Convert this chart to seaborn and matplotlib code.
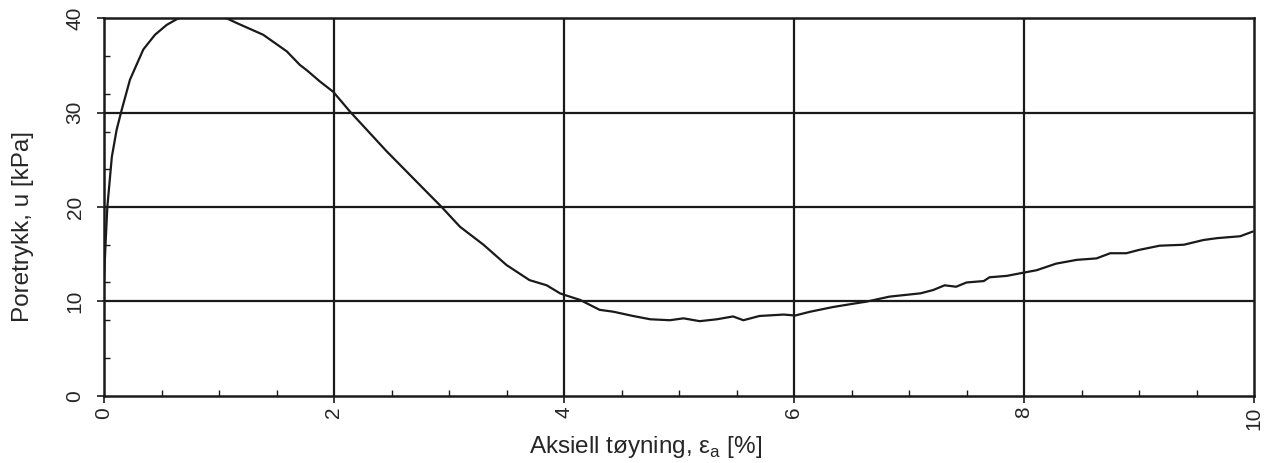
import numpy as np
import pandas as pd
import matplotlib
matplotlib.use("Agg")
import matplotlib.pyplot as plt
from matplotlib.ticker import MultipleLocator
import seaborn as sns

strain = [0.0, 0.015, 0.029, 0.068, 0.11, 0.154, 0.226, 0.342, 0.443, 0.545, 0.646,
          0.8, 0.95, 1.067, 1.154, 1.385, 1.589, 1.704, 1.763, 1.878, 1.994, 2.14,
          2.284, 2.458, 2.632, 2.806, 2.936, 3.096, 3.30, 3.50, 3.70, 3.85, 3.965,
          4.0, 4.14, 4.31, 4.43, 4.6, 4.75, 4.92, 5.04, 5.18, 5.33, 5.47, 5.56, 5.7,
          5.91, 6.01, 6.14, 6.34, 6.49, 6.63, 6.83, 7.1, 7.21, 7.31, 7.41, 7.5, 7.65,
          7.7, 7.85, 8.0, 8.11, 8.28, 8.46, 8.63, 8.75, 8.89, 9.0, 9.18, 9.39, 9.56,
          9.68, 9.88, 9.99]
pore_pressure = [12.3, 16.5, 20.0, 25.3, 28.2, 30.3, 33.5, 36.7, 38.25, 39.3, 40.0,
                 40.4, 40.3, 40.0, 39.5, 38.25, 36.5, 35.05, 34.5, 33.3, 32.2, 30.1,
                 28.2, 25.9, 23.75, 21.6, 20.0, 17.9, 16.0, 13.85, 12.25, 11.7, 10.85,
                 10.7, 10.15, 9.1, 8.9, 8.45, 8.1, 8.0, 8.2, 7.9, 8.1, 8.4, 8.0, 8.45,
                 8.6, 8.5, 8.9, 9.4, 9.7, 9.97, 10.5, 10.85, 11.2, 11.7, 11.55, 12.0, 12.15,
                 12.55, 12.7, 13.05, 13.3, 14.0, 14.4, 14.55, 15.1, 15.1, 15.45, 15.9, 16.0, 16.5,
                 16.7, 16.9, 17.4]
x_ticks = [0, 2, 4, 6, 8, 10]
y_ticks = [0, 10, 20, 30, 40]

df = pd.DataFrame({"strain": strain, "u": pore_pressure})

sns.set_style("ticks")
plt.rcParams["font.family"] = ["Liberation Sans", "DejaVu Sans"]
plt.rcParams["mathtext.fontset"] = "custom"
plt.rcParams["mathtext.rm"] = "Liberation Sans"

fig = plt.figure(figsize=(12.79, 4.63), dpi=100)
ax = fig.add_axes([104 / 1279, 1 - 395.7 / 463, 1150 / 1279, 377.4 / 463])

sns.lineplot(data=df, x="strain", y="u", ax=ax, color="#1a1a1a", linewidth=1.6, zorder=3)

ax.set_xlim(0, 10)
ax.set_ylim(0, 40)
ax.set_xticks(x_ticks)
ax.set_yticks(y_ticks)
ax.set_xticklabels([str(v) for v in x_ticks], rotation=90, fontsize=15)
ax.set_yticklabels([str(v) for v in y_ticks], rotation=90, fontsize=15, va="center")
ax.xaxis.set_minor_locator(MultipleLocator(0.5))
ax.yaxis.set_minor_locator(MultipleLocator(4))
ax.tick_params(which="major", direction="out", length=5, width=1.2, color="#1a1a1a")
ax.tick_params(axis="x", which="major", pad=3)
ax.tick_params(axis="y", which="major", pad=9)
ax.tick_params(which="minor", direction="in", length=4, width=1.0, color="#1a1a1a")

for gx in [2, 4, 6, 8]:
    ax.axvline(gx, color="#1a1a1a", linewidth=1.6, zorder=2)
for gy in [10, 20, 30]:
    ax.axhline(gy, color="#1a1a1a", linewidth=1.6, zorder=2)

for s in ax.spines.values():
    s.set_visible(True)
    s.set_linewidth(1.8)
    s.set_color("#1a1a1a")

ax.set_xlabel("Aksiell tøyning, ε$_{\\mathregular{a}}$ [%]", fontsize=17.5)
ax.set_ylabel("Poretrykk, u [kPa]", fontsize=17.5)
ax.xaxis.set_label_coords((646 - 104) / 1150, (395.7 - 434) / 377.4)
ax.yaxis.set_label_coords((34 - 104) / 1150, (395.7 - 227) / 377.4)

fig.savefig("out.png", dpi=100)
